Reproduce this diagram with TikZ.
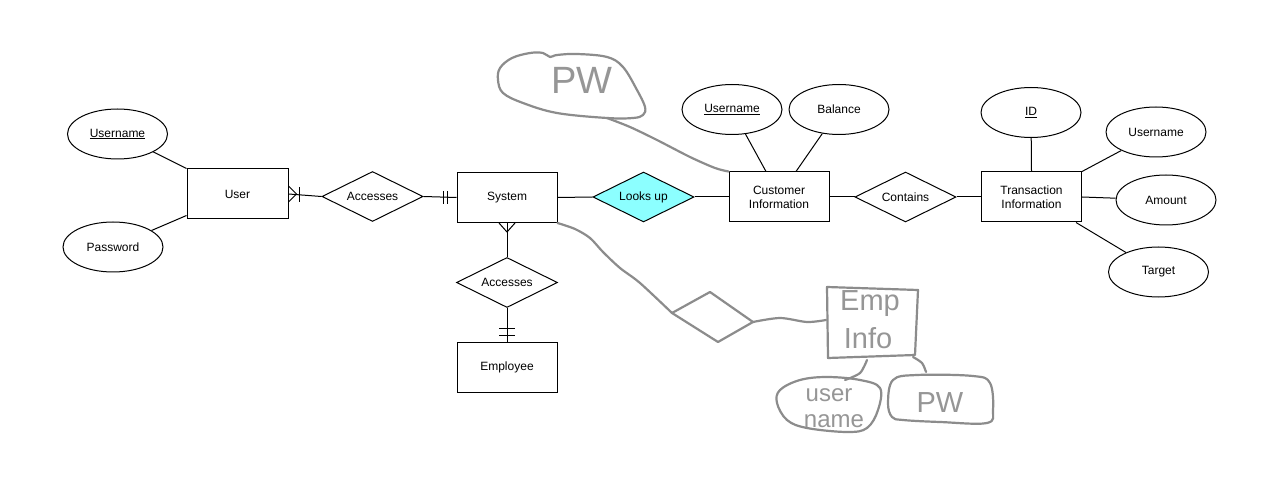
\documentclass[tikz,border=0pt]{standalone}
\usepackage{fontspec}
\setmainfont{Liberation Sans}
\usetikzlibrary{shapes.geometric,calc}
\definecolor{cyanfill}{RGB}{140,255,255}
\definecolor{pencil}{RGB}{140,140,140}
\definecolor{pentext}{RGB}{150,150,150}
\begin{document}
\begin{tikzpicture}[x=1pt,y=-1pt,
  lbl/.style={font=\fontsize{12}{14}\selectfont},
  ent/.style={lbl,draw,rectangle,minimum width=100pt,minimum height=50pt,inner sep=0pt,align=center,line width=1pt},
  attr/.style={lbl,draw,ellipse,minimum width=100pt,minimum height=50pt,inner sep=0pt,line width=1pt},
  rel/.style={lbl,draw,diamond,aspect=2,minimum width=101pt,minimum height=50pt,inner sep=0pt,line width=1pt},
  lnk/.style={line width=1pt},
  pen/.style={draw=pencil,line width=2.2pt,line join=round,line cap=round},
  hand/.style={text=pentext,inner sep=0pt}]
\useasboundingbox[fill=white] (0,0) rectangle (1266,478);

% entities, attributes, relationships
\node[attr] (uU) at (117.5,134) {\underline{Username}};
\node[attr] (uP) at (113,247) {Password};
\node[ent,minimum width=101pt] (user) at (237.5,194) {User};
\node[rel] (acc1) at (372.5,196.5) {Accesses};
\node[ent] (sys) at (507,197.5) {System};
\node[rel] (acc2) at (507,282.5) {Accesses};
\node[ent] (emp) at (507,367) {Employee};
\node[rel,fill=cyanfill] (look) at (643.5,197) {Looks up};
\node[ent] (cust) at (779,197) {Customer\\Information};
\node[attr] (cU) at (732,109.5) {\underline{Username}};
\node[attr] (cB) at (839,109.5) {Balance};
\node[rel] (cont) at (905.5,197) {Contains};
\node[ent] (trans) at (1031.5,197) {Transaction\\Information};
\node[attr] (tID) at (1031,112.5) {\underline{ID}};
\node[attr] (tU) at (1156,132) {Username};
\node[attr] (tA) at (1166,200) {Amount};
\node[attr] (tT) at (1158.5,272) {Target};

% connectors
\draw[lnk] (uU) -- (user.north west);
\draw[lnk] (uP) -- ($(user.south west)+(0,-4)$);
\draw[lnk] (user.east) -- (acc1.west);
\draw[lnk] ($(user.east)+(0,-8)$) -- ($(user.east)+(8,0)$) -- ($(user.east)+(0,8)$);
\draw[lnk] ($(user.east)+(11,-7)$) -- ($(user.east)+(11,8)$);
\draw[lnk] (acc1.east) -- (sys.west);
\draw[lnk] ($(sys.west)+(-13,-6.5)$) -- ($(sys.west)+(-13,6.5)$);
\draw[lnk] ($(sys.west)+(-9,-6.5)$) -- ($(sys.west)+(-9,6.5)$);
\draw[lnk] (sys.south) -- (acc2.north);
\draw[lnk] ($(sys.south)+(-8,0)$) -- ($(sys.south)+(0,9)$) -- ($(sys.south)+(8,0)$);
\draw[lnk] (acc2.south) -- (emp.north);
\draw[lnk] ($(emp.north)+(-8,-13)$) -- ($(emp.north)+(8,-13)$);
\draw[lnk] ($(emp.north)+(-8,-6)$) -- ($(emp.north)+(8,-6)$);
\draw[lnk] (sys.east) -- (look.west);
\draw[lnk] (look.east) -- (cust.west);
\draw[lnk] (cU) -- ($(cust.north)+(-13,0)$);
\draw[lnk] (cB) -- ($(cust.north)+(17,0)$);
\draw[lnk] (cust.east) -- (cont.west);
\draw[lnk] (cont.east) -- (trans.west);
\draw[lnk] (tID) -- (trans.north);
\draw[lnk] (tU) -- (trans.north east);
\draw[lnk] (tA) -- (trans.east);
\draw[lnk] (tT) -- ($(trans.south east)+(-6,0)$);

% hand-drawn additions
\draw[pen] plot[smooth cycle,tension=0.6] coordinates {(500,68) (512,58) (530,53) (543,53) (550,57) (557,55) (577,54) (607,57) (623,67) (637,90) (645,107) (643,115) (633,118) (607,118) (557,113) (523,103) (503,93) (498,80)};
\node[hand,font=\fontsize{38}{38}\selectfont] (pwtop) at (582,80) {PW};
\draw[pen] plot[smooth] coordinates {(607,118) (630,127) (657,140) (690,157) (715,168) (cust.north west)};

\draw[pen] plot[smooth] coordinates {(sys.south east) (575,229) (590,238) (603,252) (620,268) (640,283) (672,313)};
\draw[pen] (672,313) -- (710,292) -- (753,322) -- (718,342) -- cycle;
\draw[pen] plot[smooth] coordinates {(753,322) (780,318) (807,322) (826,320)};
\draw[pen] (827,287) -- (918,290) -- (915,355) -- (828,358) -- cycle;
\node[hand,font=\fontsize{29}{29}\selectfont] (empA) at (870,304) {Emp};
\node[hand,font=\fontsize{29}{29}\selectfont] (empB) at (868,338) {Info};
\draw[pen] plot[smooth] coordinates {(867,360) (860,373) (845,380)};
\draw[pen] plot[smooth] coordinates {(913,357) (922,363) (926,372)};
\draw[pen] plot[smooth cycle,tension=0.6] coordinates {(780,390) (800,380) (827,377) (860,380) (880,388) (878,410) (867,428) (847,432) (807,428) (787,420) (777,403)};
\node[hand,font=\fontsize{24}{24}\selectfont] (unA) at (829,395) {user};
\node[hand,font=\fontsize{24}{24}\selectfont] (unB) at (834,421) {name};
\draw[pen] plot[smooth cycle,tension=0.6] coordinates {(893,380) (917,375) (973,376) (990,383) (993,410) (987,423) (940,422) (903,420) (892,417) (888,403)};
\node[hand,font=\fontsize{29}{29}\selectfont] (pwlow) at (940,403) {PW};
\end{tikzpicture}
\end{document}
